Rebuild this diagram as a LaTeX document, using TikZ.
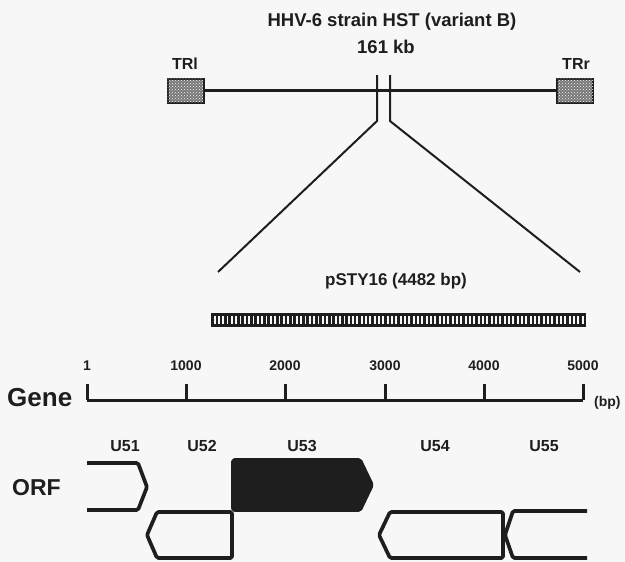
\documentclass[tikz,border=0pt]{standalone}
\usepackage{fontspec}
\setmainfont{Liberation Sans}
\usetikzlibrary{patterns}
\definecolor{ink}{RGB}{30,30,30}
\definecolor{paper}{RGB}{247,247,247}
\tikzset{
  txtA/.style={font=\bfseries\fontsize{18.5}{20}\selectfont, text=ink, inner sep=0pt, anchor=base},
  txtTR/.style={font=\bfseries\fontsize{16}{18}\selectfont, text=ink, inner sep=0pt, anchor=base},
  txtP/.style={font=\bfseries\fontsize{17}{19}\selectfont, text=ink, inner sep=0pt, anchor=base},
  txtTick/.style={font=\bfseries\fontsize{14}{16}\selectfont, text=ink, inner sep=0pt, anchor=base},
  txtU/.style={font=\bfseries\fontsize{16}{18}\selectfont, text=ink, inner sep=0pt, anchor=base},
  txtBig/.style={font=\bfseries\fontsize{26}{28}\selectfont, text=ink, inner sep=0pt, anchor=base west},
  txtBp/.style={font=\bfseries\fontsize{14}{16}\selectfont, text=ink, inner sep=0pt, anchor=base west},
  trbox/.style={draw=ink, line width=2pt, fill=ink!60, postaction={pattern=crosshatch dots, pattern color=paper}, minimum width=36pt, minimum height=24pt, inner sep=0pt},
  genome/.style={draw=ink, line width=2.2pt},
  thin/.style={draw=ink, line width=2pt},
  axis/.style={draw=ink, line width=3pt},
  orf/.style={draw=ink, line width=3.7pt, rounded corners=1.5pt, line join=round},
}
\begin{document}
\begin{tikzpicture}[x=1pt,y=-1pt]
\fill[paper] (0,0) rectangle (625,562);
\useasboundingbox (0,0) rectangle (625,562);

% ---- genome ----
\node[txtA] (title) at (392,27) {HHV-6 strain HST (variant B)};
\node[txtA] (size) at (386,53) {161 kb};
\node[txtTR] (trl) at (185,69) {TRl};
\node[txtTR] (trr) at (576,69) {TRr};
\node[trbox] (boxl) at (185.5,90.5) {};
\node[trbox] (boxr) at (575,90.5) {};
\draw[genome] (boxl.east) -- (boxr.west);

% break and zoom lines
\coordinate (bl0) at (377,75);
\coordinate (bl1) at (377,121);
\coordinate (br0) at (390,75);
\coordinate (br1) at (390,121);
\coordinate (zl) at (218,272);
\coordinate (zr) at (580,272);
\draw[thin] (bl0) -- (bl1) -- (zl);
\draw[thin] (br0) -- (br1) -- (zr);

% ---- plasmid ----
\node[txtP] (pst) at (396,285) {pSTY16 (4482 bp)};
\fill[ink] (211,313) rectangle (586,327);
\foreach \i in {0,...,85} {
  \fill[paper] ({213.6+4.33*\i},316) rectangle ({215.5+4.33*\i},324);
}

% ---- gene scale ----
\node[txtBig] (gene) at (7,406) {Gene};
\coordinate (a0) at (87,400);
\coordinate (a5) at (583,400);
\draw[axis] (a0) -- (a5);
\foreach \x/\lab/\nm in {87/1/t0,186/1000/t1,285/2000/t2,385/3000/t3,484/4000/t4,583/5000/t5} {
  \coordinate (\nm) at (\x,384);
  \draw[axis] (\nm) -- (\x,400);
  \node[txtTick] (l\nm) at (\x,370) {\lab};
}
\node[txtBp] (bp) at (594,406) {(bp)};

\node[txtU] (u51) at (125,451) {U51};
\node[txtU] (u52) at (202,451) {U52};
\node[txtU] (u53) at (302,451) {U53};
\node[txtU] (u54) at (435,451) {U54};
\node[txtU] (u55) at (544,451) {U55};

% ---- ORFs ----
\node[txtBig, font=\bfseries\fontsize{23}{25}\selectfont] (orf) at (12,495) {ORF};
\draw[orf] (87,463) -- (138,463) -- (147,487) -- (138,510) -- (87,510);
\draw[orf] (157,512) -- (232,512) -- (232,558) -- (157,558) -- (147,535) -- cycle;
\filldraw[orf, fill=ink] (233,460) -- (360,460) -- (372,485) -- (360,510) -- (233,510) -- cycle;
\draw[orf] (390,512) -- (503,512) -- (503,558) -- (390,558) -- (379,535) -- cycle;
\draw[orf] (587,511) -- (513,511) -- (505,535) -- (513,558) -- (587,558);
\end{tikzpicture}
\end{document}
